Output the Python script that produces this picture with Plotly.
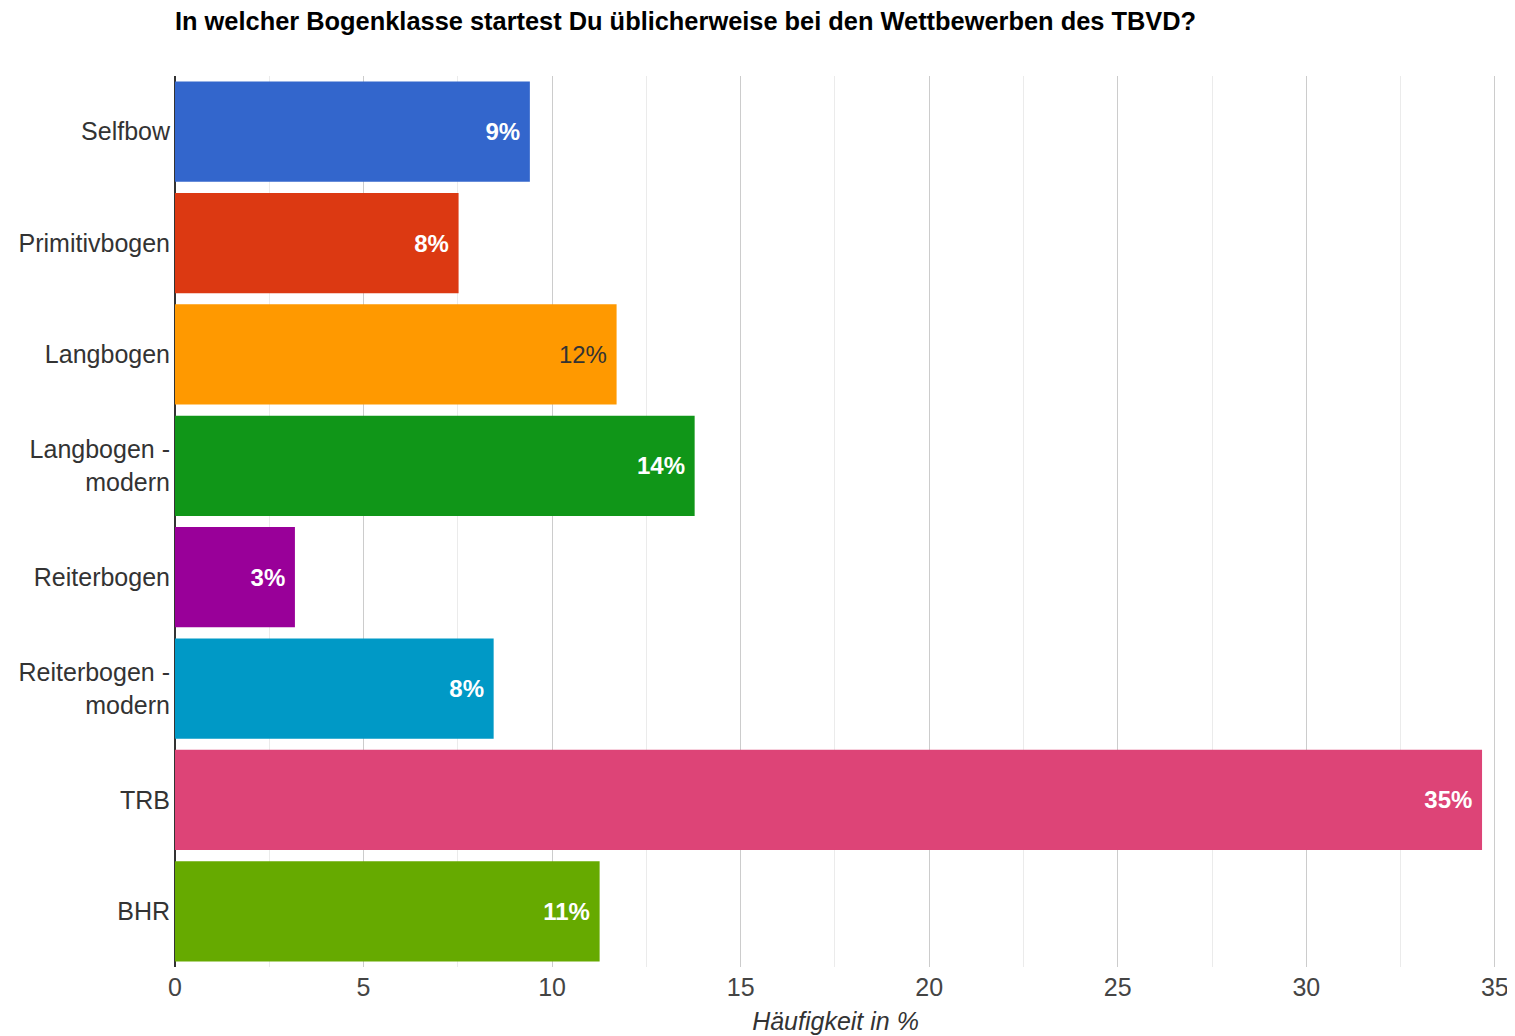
import plotly.graph_objects as go

categories = ["Selfbow", "Primitivbogen", "Langbogen", "Langbogen -<br>modern",
              "Reiterbogen", "Reiterbogen -<br>modern", "TRB", "BHR"]
values = [9.41, 7.52, 11.71, 13.78, 3.18, 8.45, 34.66, 11.26]
colors = ["#3366cc", "#dc3912", "#ff9900", "#109618", "#990099", "#0099c6", "#dd4477", "#66aa00"]
label_colors = ["#ffffff", "#ffffff", "#333333", "#ffffff", "#ffffff", "#ffffff", "#ffffff", "#ffffff"]
x_ticks = [0, 5, 10, 15, 20, 25, 30, 35]

labels = []
for v, lc in zip(values, label_colors):
    t = f"{round(v)}%"
    if lc == "#ffffff":
        t = f"<b>{t}</b>"
    labels.append(t + "\u00a0")

fig = go.Figure(go.Bar(
    x=values, y=categories, orientation="h",
    marker=dict(color=colors, line=dict(width=0)),
    text=labels, textposition="inside", insidetextanchor="end",
    textfont=dict(color=label_colors, size=24, family="Arial, Liberation Sans"),
    constraintext="none", cliponaxis=False, hoverinfo="skip",
))

W, H = 1506, 1027
fig.update_layout(
    width=W, height=H,
    paper_bgcolor="white", plot_bgcolor="white",
    margin=dict(l=167, r=18, t=68, b=68),
    bargap=0.1,
    showlegend=False,
    font=dict(family="Arial, Liberation Sans", color="#333333", size=25),
    title=dict(text="<b>In welcher Bogenklasse startest Du üblicherweise bei den Wettbewerben des TBVD?</b>",
               x=167/W, xanchor="left", y=1 - 13/H, yanchor="middle",
               font=dict(size=25.4, color="#000000")),
)
fig.update_xaxes(
    range=[0, 35.03], tickvals=x_ticks, ticktext=[str(t) for t in x_ticks],
    showgrid=True, gridcolor="#cccccc", gridwidth=1,
    minor=dict(dtick=2.5, showgrid=True, gridcolor="#ebebeb"),
    zeroline=True, zerolinecolor="#333333", zerolinewidth=1.5,
    showline=False, ticks="", tickfont=dict(size=25, color="#444444"),
    ticklabelstandoff=3, ticklabeloverflow="allow", automargin=False,
    title=dict(text="<i>Häufigkeit in %</i>", font=dict(size=25, color="#333333"), standoff=12),
)
fig.update_yaxes(
    autorange="reversed", showgrid=False, ticks="", ticklabelstandoff=4,
    tickfont=dict(size=25, color="#333333"), showline=False, automargin=False,
)

fig.write_html("out.html")
